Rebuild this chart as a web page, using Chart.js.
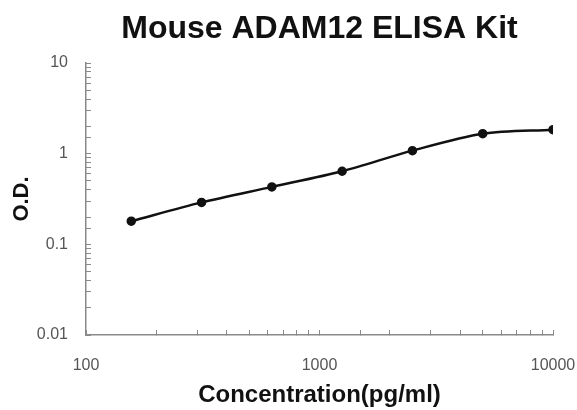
<!DOCTYPE html>
<html>
<head>
<meta charset="utf-8">
<script src="https://cdn.jsdelivr.net/npm/chart.js@4"></script>
<style>
  body { margin: 0; background: #fff; }
  #wrap { width: 577px; height: 410px; }
</style>
</head>
<body>
<div id="wrap"><canvas id="grafico" width="577" height="410"></canvas></div>
<script>
// concentraciones del estandar (pg/ml) y densidad optica
const concentraciones = [156.25, 312.5, 625, 1250, 2500, 5000, 10000];
const valoresOD = [0.18, 0.29, 0.43, 0.64, 1.08, 1.66, 1.84];
const etiquetasX = [100, 1000, 10000];
const etiquetasY = [0.01, 0.1, 1, 10];

const puntos = concentraciones.map((c, i) => ({ x: c, y: valoresOD[i] }));

const fuente = 'Arial, "Liberation Sans", sans-serif';

function soloMayores(lista) {
    return function (valor) {
        return lista.includes(valor) ? String(valor) : '';
    };
}

const ctx = document.getElementById('grafico').getContext('2d');
const grafico = new Chart(ctx, {
    type: 'line',
    data: {
        datasets: [{
            data: puntos,
            borderColor: '#111',
            backgroundColor: '#111',
            borderWidth: 2.5,
            pointRadius: 3.5,
            pointHoverRadius: 3.5,
            tension: 0.3,
            fill: false
        }]
    },
    options: {
        responsive: false,
        animation: false,
        layout: { padding: { left: 0, right: 24, top: 0, bottom: 0 } },
        plugins: {
            legend: { display: false },
            tooltip: { enabled: false },
            title: {
                display: true,
                fullSize: false,
                text: 'Mouse ADAM12 ELISA Kit',
                color: '#111',
                font: { family: fuente, size: 32, weight: 'bold' },
                padding: { top: 10, bottom: 14.6 }
            }
        },
        scales: {
            x: {
                type: 'logarithmic',
                min: 100,
                max: 10000,
                afterFit: function (escala) {
                    escala.height = 75;
                    escala.paddingLeft = 0;
                    escala.paddingRight = 0;
                },
                border: { color: '#8a8a8a', width: 1.5 },
                grid: { drawOnChartArea: false, tickLength: -5, color: '#8a8a8a', lineWidth: 1 },
                ticks: {
                    autoSkip: false,
                    maxRotation: 0,
                    padding: 26,
                    color: '#555',
                    font: { family: fuente, size: 16 },
                    callback: soloMayores(etiquetasX)
                },
                title: {
                    display: true,
                    text: 'Concentration(pg/ml)',
                    color: '#111',
                    font: { family: fuente, size: 24, weight: 'bold' },
                    padding: { top: 4, bottom: 0 }
                }
            },
            y: {
                type: 'logarithmic',
                min: 0.01,
                max: 10,
                afterFit: function (escala) {
                    escala.width = 86;
                    escala.paddingTop = 0;
                    escala.paddingBottom = 0;
                },
                border: { color: '#8a8a8a', width: 1.5 },
                grid: { drawOnChartArea: false, tickLength: -5, color: '#8a8a8a', lineWidth: 1 },
                ticks: {
                    autoSkip: false,
                    padding: 23,
                    color: '#555',
                    font: { family: fuente, size: 16 },
                    callback: soloMayores(etiquetasY)
                },
                title: {
                    display: true,
                    text: 'O.D.',
                    color: '#111',
                    font: { family: fuente, size: 22, weight: 'bold' },
                    padding: { top: 9, bottom: 0 }
                }
            }
        }
    }
});
</script>
</body>
</html>
